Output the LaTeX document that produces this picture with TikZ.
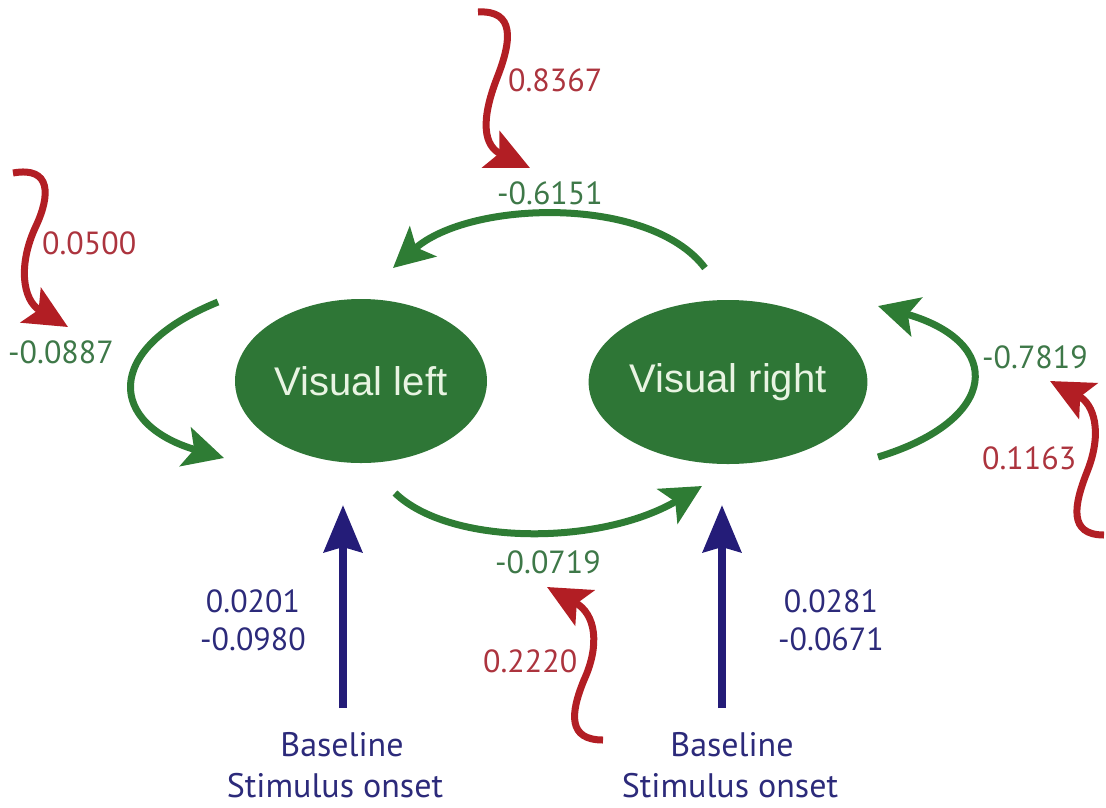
\documentclass[tikz,border=0pt]{standalone}
\usepackage{fontspec}
\setmainfont{PT Sans}
\newfontfamily\arialfont{Liberation Sans}
\usetikzlibrary{arrows.meta,shapes.geometric}
\definecolor{grline}{RGB}{46,124,52}
\definecolor{grfill}{RGB}{46,118,54}
\definecolor{grtext}{RGB}{62,120,72}
\definecolor{areatext}{RGB}{232,244,226}
\definecolor{rdline}{RGB}{178,30,36}
\definecolor{rdtext}{RGB}{172,52,62}
\definecolor{blline}{RGB}{36,28,120}
\definecolor{bltext}{RGB}{44,42,122}
\begin{document}
\begin{tikzpicture}[x=1pt,y=-1pt,
  area/.style={ellipse, fill=grfill, minimum width=252pt, minimum height=164pt, inner sep=0pt, text=areatext, font=\arialfont\fontsize{40}{48}\selectfont},
  garrow/.style={draw=grline, line width=7pt, -{Stealth[length=40pt,width=40pt,inset=9pt]}},
  rarrow/.style={draw=rdline, line width=7pt, -{Stealth[length=43pt,width=40pt,inset=9pt]}},
  barrow/.style={draw=blline, line width=8pt, -{Stealth[length=47pt,width=38pt,inset=5pt]}},
  glab/.style={text=grtext, font=\fontsize{32}{38}\selectfont, inner sep=0pt},
  rlab/.style={text=rdtext, font=\fontsize{32}{38}\selectfont, inner sep=0pt},
  blab/.style={text=bltext, font=\fontsize{32}{38}\selectfont, inner sep=0pt, align=center},
  bllab/.style={text=bltext, font=\fontsize{34}{40}\selectfont, inner sep=0pt, anchor=base}
]
\useasboundingbox (0,0) rectangle (1106,807);
% areas
\node[area] (L) at (361,381) {Visual left};
\node[area] (R) at (728,382) {Visual right};
% coordinates
\coordinate (topS) at (705,268);
\coordinate (topE) at (393,268);
\coordinate (lpS) at (218,302);
\coordinate (lpE) at (224,458);
\coordinate (rpS) at (878,457);
\coordinate (rpE) at (878,306);
\coordinate (botS) at (395,493);
\coordinate (botE) at (702,486);
% green connectors
\draw[garrow] (topS) .. controls (650,195) and (470,200) .. (topE);
\draw[garrow] (lpS) .. controls (100,350) and (110,425) .. (lpE);
\draw[garrow] (rpS) .. controls (1000,420) and (1005,342) .. (rpE);
\draw[garrow] (botS) .. controls (450,546) and (600,546) .. (botE);
% red inputs
\coordinate (r1S) at (478,12);  \coordinate (r1E) at (530,168);
\coordinate (r2S) at (13,173);  \coordinate (r2E) at (68,327);
\coordinate (r3S) at (1104,535); \coordinate (r3E) at (1050,381);
\coordinate (r4S) at (603,740); \coordinate (r4E) at (547,587);
\draw[rarrow] (r1S) .. controls (515,10) and (512,40) .. (497,78) .. controls (480,122) and (484,146) .. (r1E);
\draw[rarrow] (r2S) .. controls (52,166) and (50,196) .. (36,226) .. controls (18,264) and (22,300) .. (r2E);
\draw[rarrow] (r3S) .. controls (1068,535) and (1074,505) .. (1087,472) .. controls (1103,432) and (1094,404) .. (r3E);
\draw[rarrow] (r4S) .. controls (568,740) and (570,714) .. (584,680) .. controls (600,645) and (596,614) .. (r4E);
% blue inputs
\coordinate (b1S) at (343,708); \coordinate (b1E) at (343,505);
\coordinate (b2S) at (722,708); \coordinate (b2E) at (722,505);
\draw[barrow] (b1S) -- (b1E);
\draw[barrow] (b2S) -- (b2E);
% labels
\node[rlab, anchor=west] (t1) at (508,80) {0.8367};
\node[glab] (t2) at (550,193) {-0.6151};
\node[rlab, anchor=west] (t3) at (42,243) {0.0500};
\node[glab, anchor=west] (t4) at (8,352) {-0.0887};
\node[glab, anchor=west] (t5) at (982,357) {-0.7819};
\node[rlab, anchor=west] (t6) at (982,458) {0.1163};
\node[glab] (t7) at (548,562) {-0.0719};
\node[rlab, anchor=west] (t8) at (483,661) {0.2220};
\node[blab] (t9) at (253,620) {0.0201\\-0.0980};
\node[blab, anchor=west] (t10) at (778,620) {0.0281\\-0.0671};
\node[bllab] (t11a) at (342,756) {Baseline};
\node[bllab] (t11b) at (335,797) {Stimulus onset};
\node[bllab] (t12a) at (732,756) {Baseline};
\node[bllab] (t12b) at (730,797) {Stimulus onset};
\end{tikzpicture}
\end{document}
